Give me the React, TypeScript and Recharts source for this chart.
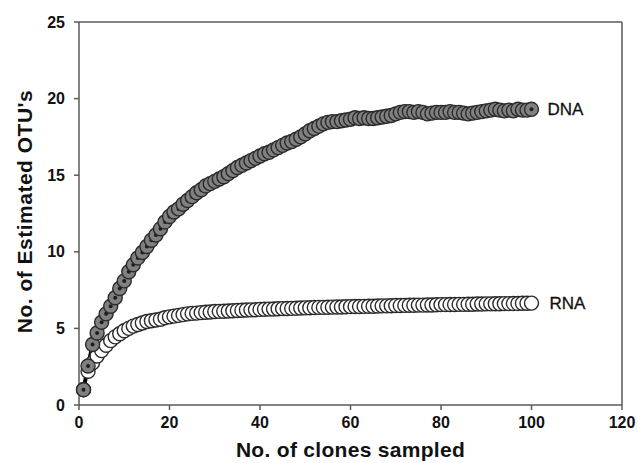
import React from 'react';
import { LineChart, Line, XAxis, YAxis, ReferenceLine, LabelList } from 'recharts';

const dnaValues = [
  1.0, 2.55, 3.95, 4.7, 5.4, 5.95, 6.45, 7.0, 7.6, 8.1,
  8.7, 9.15, 9.6, 9.95, 10.35, 10.75, 11.1, 11.5, 11.95, 12.3,
  12.6, 12.8, 13.1, 13.35, 13.6, 13.85, 14.05, 14.3, 14.45, 14.6,
  14.75, 14.9, 15.1, 15.3, 15.5, 15.65, 15.8, 15.95, 16.1, 16.25,
  16.4, 16.5, 16.65, 16.8, 16.95, 17.1, 17.2, 17.35, 17.5, 17.7,
  17.9, 18.05, 18.2, 18.35, 18.45, 18.5, 18.5, 18.55, 18.6, 18.65,
  18.75, 18.7, 18.75, 18.7, 18.7, 18.75, 18.8, 18.85, 18.9, 19.0,
  19.1, 19.15, 19.15, 19.1, 19.15, 19.1, 19.0, 19.05, 19.1, 19.1,
  19.1, 19.15, 19.1, 19.1, 19.05, 19.0, 19.05, 19.1, 19.15, 19.2,
  19.25, 19.3, 19.25, 19.2, 19.25, 19.2, 19.3, 19.25, 19.25, 19.3,
];

const rnaValues = [
  1.0, 2.2, 2.75, 3.2, 3.55, 3.9, 4.2, 4.45, 4.65, 4.85,
  5.0, 5.15, 5.25, 5.35, 5.45, 5.5, 5.55, 5.6, 5.7, 5.75,
  5.8, 5.85, 5.9, 5.95, 5.98, 6.0, 6.03, 6.05, 6.07, 6.1,
  6.11, 6.12, 6.14, 6.15, 6.17, 6.18, 6.2, 6.21, 6.22, 6.24,
  6.25, 6.26, 6.27, 6.28, 6.29, 6.3, 6.31, 6.32, 6.33, 6.34,
  6.35, 6.36, 6.37, 6.37, 6.38, 6.39, 6.4, 6.4, 6.41, 6.42,
  6.43, 6.43, 6.44, 6.45, 6.45, 6.46, 6.47, 6.47, 6.48, 6.49,
  6.49, 6.5, 6.51, 6.51, 6.52, 6.52, 6.53, 6.53, 6.54, 6.55,
  6.55, 6.56, 6.56, 6.57, 6.57, 6.58, 6.58, 6.59, 6.59, 6.6,
  6.6, 6.61, 6.61, 6.62, 6.62, 6.63, 6.63, 6.64, 6.64, 6.65,
];

const seriesNames = ['DNA', 'RNA'];
const xTicks = [0, 20, 40, 60, 80, 100, 120];
const yTicks = [0, 5, 10, 15, 20, 25];
const xTitle = 'No. of clones sampled';
const yTitle = "No. of Estimated OTU's";

const data = dnaValues.map((d, i) => ({
  n: i + 1,
  dna: d,
  rna: rnaValues[i],
  dnaLabel: i === dnaValues.length - 1 ? seriesNames[0] : undefined,
  rnaLabel: i === rnaValues.length - 1 ? seriesNames[1] : undefined,
}));

const FONT = '"Liberation Sans", Arial, Helvetica, sans-serif';
const AXIS = '#5a5a5a';

const DnaDot = (props: any) => {
  const { cx, cy, index } = props;
  if (cx == null || cy == null) return <g key={`d-${index}`} />;
  return (
    <g key={`d-${index}`}>
      <circle cx={cx} cy={cy} r={7} fill="#808080" stroke="#2a2a2a" strokeWidth={1.4} />
      <circle cx={cx} cy={cy} r={2} fill="#1e1e1e" />
    </g>
  );
};

const RnaDot = (props: any) => {
  const { cx, cy, index } = props;
  if (cx == null || cy == null) return <g key={`r-${index}`} />;
  return <circle key={`r-${index}`} cx={cx} cy={cy} r={7} fill="#ffffff" stroke="#2a2a2a" strokeWidth={1.4} />;
};

const XTitle = (props: any) => {
  const vb = props.viewBox || {};
  return (
    <text x={vb.x + vb.width / 2} y={vb.y + 52} textAnchor="middle" fontFamily={FONT} fontWeight="bold" fontSize={21} letterSpacing={0.3} fill="#111">
      {xTitle}
    </text>
  );
};

const YTitle = (props: any) => {
  const vb = props.viewBox || {};
  const x = vb.x + 32;
  const y = vb.y + vb.height / 2 - 2;
  return (
    <text x={x} y={y} transform={`rotate(-90, ${x}, ${y})`} textAnchor="middle" fontFamily={FONT} fontWeight="bold" fontSize={21} letterSpacing={0.5} fill="#111">
      {yTitle}
    </text>
  );
};

const seriesLabelStyle = { fontFamily: FONT, fontSize: 17, fill: '#111', stroke: '#111', strokeWidth: 0.3 };

export default function App() {
  return (
    <div style={{ position: 'absolute', left: 0, top: 0, background: '#fff' }}>
      <LineChart width={638} height={463} data={data} margin={{ top: 22, right: 16, bottom: 0, left: 0 }}>
        <XAxis
          dataKey="n"
          type="number"
          domain={[0, 120]}
          ticks={xTicks}
          height={58}
          stroke={AXIS}
          strokeWidth={1.5}
          tickSize={5}
          tickMargin={7}
          tick={{ fontFamily: FONT, fontWeight: 'bold', fontSize: 16, fill: '#111' }}
          tickLine={{ stroke: AXIS, strokeWidth: 1.5 }}
          label={{ content: XTitle }}
        />
        <YAxis
          type="number"
          domain={[0, 25]}
          ticks={yTicks}
          width={79}
          stroke={AXIS}
          strokeWidth={1.5}
          tickSize={5}
          tickMargin={9}
          tick={{ fontFamily: FONT, fontWeight: 'bold', fontSize: 16, fill: '#111' }}
          tickLine={{ stroke: AXIS, strokeWidth: 1.5 }}
          label={{ content: YTitle }}
        />
        <ReferenceLine y={25} stroke={AXIS} strokeWidth={1.5} ifOverflow="visible" />
        <ReferenceLine x={120} stroke={AXIS} strokeWidth={1.5} ifOverflow="visible" />
        <Line
          dataKey="rna"
          stroke="none"
          strokeWidth={0}
          dot={RnaDot}
          activeDot={false}
          isAnimationActive={false}
        >
          <LabelList dataKey="rnaLabel" position="right" offset={18} style={seriesLabelStyle} />
        </Line>
        <Line
          dataKey="dna"
          stroke="#000"
          strokeWidth={4}
          dot={DnaDot}
          activeDot={false}
          isAnimationActive={false}
        >
          <LabelList dataKey="dnaLabel" position="right" offset={16} style={seriesLabelStyle} />
        </Line>
      </LineChart>
    </div>
  );
}
